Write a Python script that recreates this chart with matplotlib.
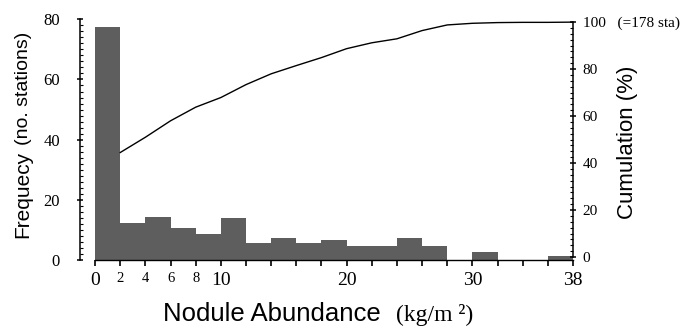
import numpy as np
import matplotlib
matplotlib.use("Agg")
import matplotlib.pyplot as plt

# histogram bins (kg/m2), width 2
bin_left = [0, 2, 4, 6, 8, 10, 12, 14, 16, 18, 20, 22, 24, 26, 28, 30, 32, 34, 36]
freq = [77.3, 12.3, 14.4, 10.6, 8.7, 13.8, 5.7, 7.4, 5.7, 6.8,
        4.8, 4.8, 7.2, 4.8, 0, 2.8, 0, 0, 1.3]

# cumulative curve (%), read at bin right edges
cum_x = [2, 4, 6, 8, 10, 12, 14, 16, 18, 20, 22, 24, 26, 28, 30, 32, 34, 36, 38]
cum_pct = [44.5, 51.0, 58.0, 63.8, 67.9, 73.4, 78.0, 81.5, 84.9, 88.7,
           91.2, 92.9, 96.4, 98.8, 99.5, 99.8, 99.9, 99.9, 100.0]

x_ticks = list(range(0, 39, 2))
x_big = {0: "0", 10: "10", 20: "20", 30: "30", 38: "38"}
x_small = {2: "2", 4: "4", 6: "6", 8: "8"}
left_ticks = [0, 20, 40, 60, 80]
right_ticks = [0, 20, 40, 60, 80, 100]
right_labels = ["0", "20", "40", "60", "80", "100   (=178 sta)"]

serif = "Liberation Serif"
sans = "Liberation Sans"

W, H = 689, 329
fig = plt.figure(figsize=(W / 100, H / 100), dpi=100)
ax = fig.add_axes([80 / W, 69 / H, 493 / W, 240.7 / H])

ax.bar(bin_left, freq, width=2, align="edge", color="#5e5e5e", linewidth=0)
ax.set_xlim(-1.2, 38)
ax.set_ylim(0, 80)

for s in ["top", "right"]:
    ax.spines[s].set_visible(False)
ax.spines["left"].set_bounds(0, 80)
ax.spines["bottom"].set_bounds(0, 38)
ax.spines["left"].set_linewidth(1.1)
ax.spines["bottom"].set_linewidth(1.0)

ax.set_xticks(x_ticks)
ax.set_xticklabels([x_big.get(t, x_small.get(t, "")) for t in x_ticks])
ax.tick_params(axis="x", direction="out", length=4.5, width=1.2, pad=4)
for t, lab in zip(x_ticks, ax.get_xticklabels()):
    lab.set_fontfamily(serif)
    lab.set_fontsize(10.5 if t in x_small else 14)

ax.set_yticks(left_ticks)
ax.set_yticks(np.arange(0, 81, 2), minor=True)
ax.tick_params(axis="y", which="major", direction="inout", length=5, width=1.1, pad=12)
ax.tick_params(axis="y", which="minor", direction="in", length=2.5, width=0.8)
for lab in ax.get_yticklabels():
    lab.set_fontfamily(serif)
    lab.set_fontsize(12)

ax2 = ax.twinx()
ax2.plot(cum_x, cum_pct, color="black", linewidth=1.0)
ax2.set_ylim(-1.25, 101.2)
for s in ["top", "left", "bottom"]:
    ax2.spines[s].set_visible(False)
ax2.spines["right"].set_bounds(0, 100)
ax2.spines["right"].set_linewidth(1.1)
ax2.set_yticks(right_ticks)
ax2.set_yticklabels(right_labels)
ax2.set_yticks(np.arange(0, 101, 2.5), minor=True)
ax2.tick_params(axis="y", which="major", direction="inout", length=5, width=1.1, pad=4.5)
ax2.tick_params(axis="y", which="minor", direction="in", length=2.5, width=0.8)
for lab in ax2.get_yticklabels():
    lab.set_fontfamily(serif)
    lab.set_fontsize(11)

# axis titles
fig.text(28 / W, 1 - 238 / H, "Frequecy", family=sans, fontsize=15,
         rotation=90, rotation_mode="anchor", ha="left", va="baseline")
fig.text(28 / W, 1 - 145 / H, "(no. stations)", family=sans, fontsize=14,
         rotation=90, rotation_mode="anchor", ha="left", va="baseline")
fig.text(628 / W, 1 - 142 / H, "Cumulation (%)", family=sans, fontsize=16,
         rotation=90, ha="center", va="center")
fig.text(163 / W, 1 - 321 / H, "Nodule Abundance", family=sans, fontsize=18.5,
         ha="left", va="baseline")
fig.text(396 / W, 1 - 321 / H, "(kg/m ²)", family=serif, fontsize=17,
         ha="left", va="baseline")

fig.savefig("out.png", dpi=100)
